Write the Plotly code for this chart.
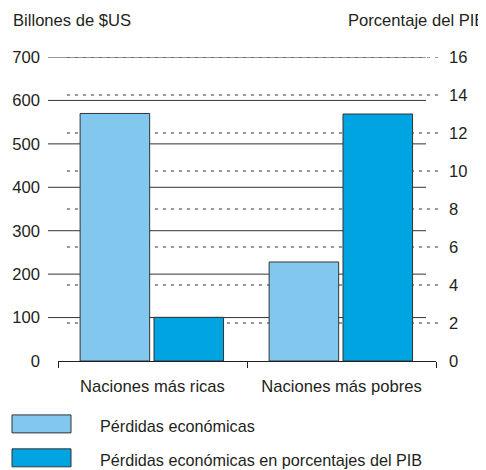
import plotly.graph_objects as go

categories = ["Naciones más ricas", "Naciones más pobres"]
losses_busd = [570, 228]
losses_pct_gdp = [2.3, 13]
series_names = ["Pérdidas económicas", "Pérdidas económicas en porcentajes del PIB"]
left_ticks = [0, 100, 200, 300, 400, 500, 600, 700]
right_ticks = [0, 2, 4, 6, 8, 10, 12, 14, 16]
left_title = "Billones de $US"
right_title = "Porcentaje del PIB"

OFF = 8                      # page body margin
W, H = 486 - OFF, 470 - OFF
L, R = 58 - OFF, 436 - OFF   # plot area pixel x (in figure coords)
T, B = 56.5 - OFF, 361 - OFF
FONT = dict(family="Liberation Sans, Arial, sans-serif", size=16.6, color="#231F20")
LEG_FONT = dict(family="Liberation Sans, Arial, sans-serif", size=16.2, color="#231F20")
C_LIGHT = "#82C8EE"
C_DARK = "#00A4E0"
EDGE = "#333333"


def px(x):
    return (x - OFF - L) / (R - L)


def py(y):
    return (B - (y - OFF)) / (B - T)


fig = go.Figure()
fig.add_trace(go.Bar(x=categories, y=losses_busd, name=series_names[0], yaxis="y",
                     marker=dict(color=C_LIGHT, line=dict(color=EDGE, width=1)),
                     width=0.368, offset=-0.383, showlegend=False))
fig.add_trace(go.Bar(x=categories, y=losses_pct_gdp, name=series_names[1], yaxis="y2",
                     marker=dict(color=C_DARK, line=dict(color=EDGE, width=1)),
                     width=0.368, offset=0.008, showlegend=False))

shapes = []
for v in left_ticks[1:]:
    shapes.append(dict(type="line", xref="paper", yref="y", x0=px(48), x1=px(426), y0=v, y1=v,
                       line=dict(color="#333333", width=1), layer="below"))
for v in right_ticks[1:]:
    shapes.append(dict(type="line", xref="paper", yref="y2", x0=px(67), x1=px(441), y0=v, y1=v,
                       line=dict(color="#333333", width=1, dash="3px,5px"), layer="below"))

annotations = [
    dict(text=left_title, xref="paper", yref="paper", x=px(11), y=py(20), xanchor="left",
         yanchor="middle", showarrow=False, font=FONT),
    dict(text=right_title, xref="paper", yref="paper", x=px(487), y=py(20), xanchor="right",
         yanchor="middle", showarrow=False, font=FONT),
]
legend_rows = [(415, 433, C_LIGHT), (449, 467, C_DARK)]
for name, (y0, y1, col) in zip(series_names, legend_rows):
    shapes.append(dict(type="rect", xref="paper", yref="paper", x0=px(12), x1=px(71),
                       y0=py(y1), y1=py(y0), fillcolor=col, line=dict(color=EDGE, width=1)))
    annotations.append(dict(text=name, xref="paper", yref="paper", x=px(98), y=py((y0 + y1) / 2 + 2),
                            xanchor="left", yanchor="middle", showarrow=False, font=LEG_FONT))

fig.update_layout(
    width=W, height=H,
    margin=dict(l=L, r=W - R, t=T, b=H - B, pad=0, autoexpand=False),
    paper_bgcolor="white", plot_bgcolor="white",
    font=FONT,
    barmode="overlay",
    showlegend=False,
    shapes=shapes,
    annotations=annotations,
    xaxis=dict(type="category", range=[-0.5, 1.5], tickson="boundaries", ticks="outside",
               ticklen=6, tickcolor="#231F20", showline=True, linecolor="#231F20", linewidth=1,
               showgrid=False, zeroline=False, tickfont=FONT, ticklabelstandoff=10,
               automargin=False),
    yaxis=dict(range=[0, 700], tickvals=left_ticks, showgrid=False, zeroline=False,
               showline=False, ticks="", tickfont=FONT, ticklabelstandoff=17, automargin=False),
    yaxis2=dict(range=[0, 16], tickvals=right_ticks, overlaying="y", side="right",
                showgrid=False, zeroline=False, showline=False, ticks="", tickfont=FONT,
                ticklabelstandoff=12, automargin=False),
)

fig.write_html("out.html")
